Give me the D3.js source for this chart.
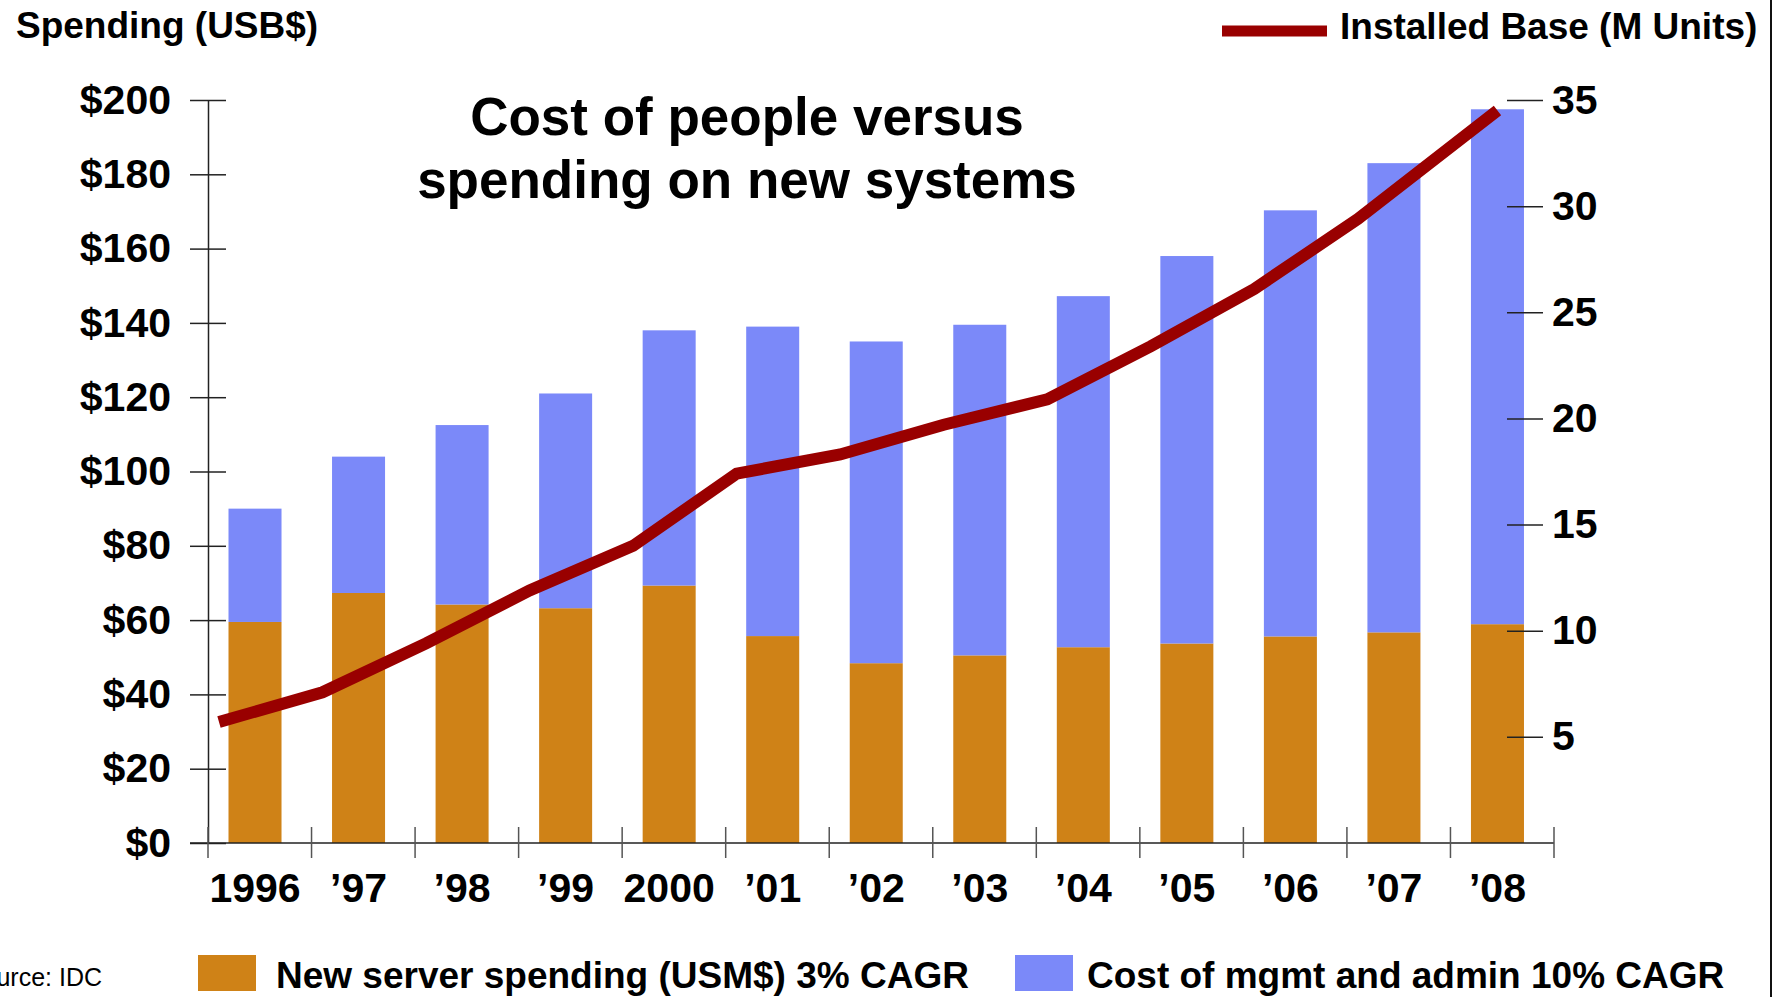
<!DOCTYPE html>
<html>
<head>
<meta charset="utf-8">
<script src="https://cdn.jsdelivr.net/npm/d3@7"></script>
<style>
  html, body { margin: 0; padding: 0; background: #ffffff; }
  svg { display: block; font-family: "Liberation Sans", Arial, Helvetica, sans-serif; }
</style>
</head>
<body>
<svg id="chart" width="1781" height="997"></svg>
<script>
// Years on the category axis
const years = ["1996", "\u201997", "\u201998", "\u201999", "2000", "\u201901", "\u201902",
               "\u201903", "\u201904", "\u201905", "\u201906", "\u201907", "\u201908"];

// New server spending (USB$), bottom segment of each bar
const serverSpending = [59.5, 67.3, 64.2, 63.2, 69.3, 55.7, 48.4, 50.5, 52.7, 53.7, 55.6, 56.7, 58.9];

// Cost of management and administration (USB$), stacked on top
const mgmtCost = [30.5, 36.7, 48.3, 57.8, 68.7, 83.3, 86.6, 89.0, 94.5, 104.3, 114.7, 126.3, 138.6];

// Installed base of servers (millions of units), right axis
const installedBase = [5.7, 7.1, 9.4, 11.9, 14.0, 17.4, 18.3, 19.7, 20.9, 23.4, 26.1, 29.4, 34.5];

// Axis ticks
const spendTicks = [0, 20, 40, 60, 80, 100, 120, 140, 160, 180, 200];
const unitTicks = [5, 10, 15, 20, 25, 30, 35];

const titleLines = ["Cost of people versus", "spending on new systems"];
const legendServer = "New server spending (USM$) 3% CAGR";
const legendMgmt = "Cost of mgmt and admin 10% CAGR";
const legendBase = "Installed Base (M Units)";
const leftTitle = "Spending (USB$)";
const sourceNote = "Source: IDC";

const COLORS = { server: "#cf8217", mgmt: "#7b89f9", line: "#990000", axis: "#222222", tick: "#555555" };

const svg = d3.select("#chart");

const plot = { left: 208, right: 1554, top: 100, bottom: 843 };

const x = d3.scaleBand().domain(years).range([plot.left, plot.right]).padding(0);
const step = x.bandwidth();
const barOffset = step * 0.198;
const barWidth = step * 0.512;

const y = d3.scaleLinear().domain([0, 200]).range([plot.bottom, plot.top]);
const y2 = d3.scaleLinear().domain([0, 35]).range([plot.bottom, plot.top]);

// Stacked bars
const rows = years.map((yr, i) => ({ year: yr, server: serverSpending[i], mgmt: mgmtCost[i] }));
const stack = d3.stack().keys(["server", "mgmt"])(rows);

svg.append("g")
  .selectAll("g")
  .data(stack)
  .join("g")
  .attr("fill", d => COLORS[d.key])
  .selectAll("rect")
  .data(d => d)
  .join("rect")
  .attr("x", d => x(d.data.year) + barOffset)
  .attr("width", barWidth)
  .attr("y", d => y(d[1]))
  .attr("height", d => y(d[0]) - y(d[1]));

// Left axis: ticks cross the axis line
const leftAxis = svg.append("g")
  .attr("transform", `translate(${plot.left},0)`)
  .call(d3.axisLeft(y).tickValues(spendTicks).tickFormat(d => "$" + d)
    .tickSizeInner(18).tickSizeOuter(0).tickPadding(19));
leftAxis.select(".domain").attr("stroke", COLORS.axis).attr("stroke-width", 1.5);
leftAxis.selectAll(".tick line").attr("stroke", COLORS.axis).attr("stroke-width", 1.5);
leftAxis.selectAll(".tick").append("line")
  .attr("x1", 0).attr("x2", 18).attr("stroke", COLORS.axis).attr("stroke-width", 1.5);
leftAxis.selectAll(".tick text")
  .attr("font-size", 41).attr("font-weight", "bold").attr("fill", "#000")
  .attr("font-family", "Liberation Sans, Arial, sans-serif");

// Right axis: tick marks only, no spine
const rightAxis = svg.append("g")
  .attr("transform", `translate(${plot.right - 47},0)`)
  .call(d3.axisRight(y2).tickValues(unitTicks).tickFormat(d3.format("d"))
    .tickSizeInner(36).tickSizeOuter(0).tickPadding(9));
rightAxis.select(".domain").remove();
rightAxis.selectAll(".tick line").attr("stroke", COLORS.axis).attr("stroke-width", 1.5);
rightAxis.selectAll(".tick text")
  .attr("font-size", 41).attr("font-weight", "bold").attr("fill", "#000")
  .attr("font-family", "Liberation Sans, Arial, sans-serif");

// Category axis: baseline plus boundary ticks between years
const xAxis = svg.append("g");
xAxis.append("line")
  .attr("x1", plot.left - 18).attr("x2", plot.right)
  .attr("y1", y(0)).attr("y2", y(0))
  .attr("stroke", COLORS.axis).attr("stroke-width", 1.5);
const boundaries = years.map(d => x(d)).concat([x(years[years.length - 1]) + step]);
xAxis.selectAll("line.bound")
  .data(boundaries)
  .join("line")
  .attr("class", "bound")
  .attr("x1", d => d).attr("x2", d => d)
  .attr("y1", y(0) - 16).attr("y2", y(0) + 15)
  .attr("stroke", COLORS.tick).attr("stroke-width", 1.5);
xAxis.selectAll("text")
  .data(years)
  .join("text")
  .attr("x", d => x(d) + barOffset + barWidth / 2)
  .attr("y", 902)
  .attr("text-anchor", "middle")
  .attr("font-size", 41)
  .attr("font-weight", "bold")
  .text(d => d);

// Installed base line; the final point sits over the centre of the last bar
const lineX = (d, i) => i === years.length - 1
  ? x(years[i]) + barOffset + barWidth / 2
  : x(years[i]) + step * 0.106;
const line = d3.line()
  .x((d, i) => lineX(d, i))
  .y(d => y2(d));
svg.append("path")
  .datum(installedBase)
  .attr("d", line)
  .attr("fill", "none")
  .attr("stroke", COLORS.line)
  .attr("stroke-width", 12)
  .attr("stroke-linejoin", "miter")
  .attr("stroke-linecap", "butt");

// Title
svg.append("text")
  .attr("x", 747)
  .attr("text-anchor", "middle")
  .attr("font-size", 53)
  .attr("font-weight", "bold")
  .selectAll("tspan")
  .data(titleLines)
  .join("tspan")
  .attr("x", 747)
  .attr("y", (d, i) => 135 + i * 63)
  .text(d => d);

// Left axis heading
svg.append("text")
  .attr("x", 16).attr("y", 38)
  .attr("font-size", 37).attr("font-weight", "bold")
  .text(leftTitle);

// Line legend, top right
svg.append("line")
  .attr("x1", 1222).attr("x2", 1327)
  .attr("y1", 31).attr("y2", 31)
  .attr("stroke", COLORS.line).attr("stroke-width", 11);
svg.append("text")
  .attr("x", 1340).attr("y", 39)
  .attr("font-size", 37).attr("font-weight", "bold")
  .text(legendBase);

// Bar legend, bottom
const legend = [
  { key: "server", label: legendServer, x: 198, tx: 276 },
  { key: "mgmt", label: legendMgmt, x: 1015, tx: 1087 }
];
const lg = svg.append("g").selectAll("g").data(legend).join("g");
lg.append("rect")
  .attr("x", d => d.x).attr("y", 955)
  .attr("width", 58).attr("height", 36)
  .attr("fill", d => COLORS[d.key]);
lg.append("text")
  .attr("x", d => d.tx).attr("y", 988)
  .attr("font-size", 37).attr("font-weight", "bold")
  .text(d => d.label);

// Source note, running off the left edge
svg.append("text")
  .attr("x", 102).attr("y", 986)
  .attr("text-anchor", "end")
  .attr("font-size", 25)
  .text(sourceNote);

// Right frame edge
svg.append("line")
  .attr("x1", 1771).attr("x2", 1771)
  .attr("y1", 0).attr("y2", 997)
  .attr("stroke", "#111").attr("stroke-width", 2);
</script>
</body>
</html>
